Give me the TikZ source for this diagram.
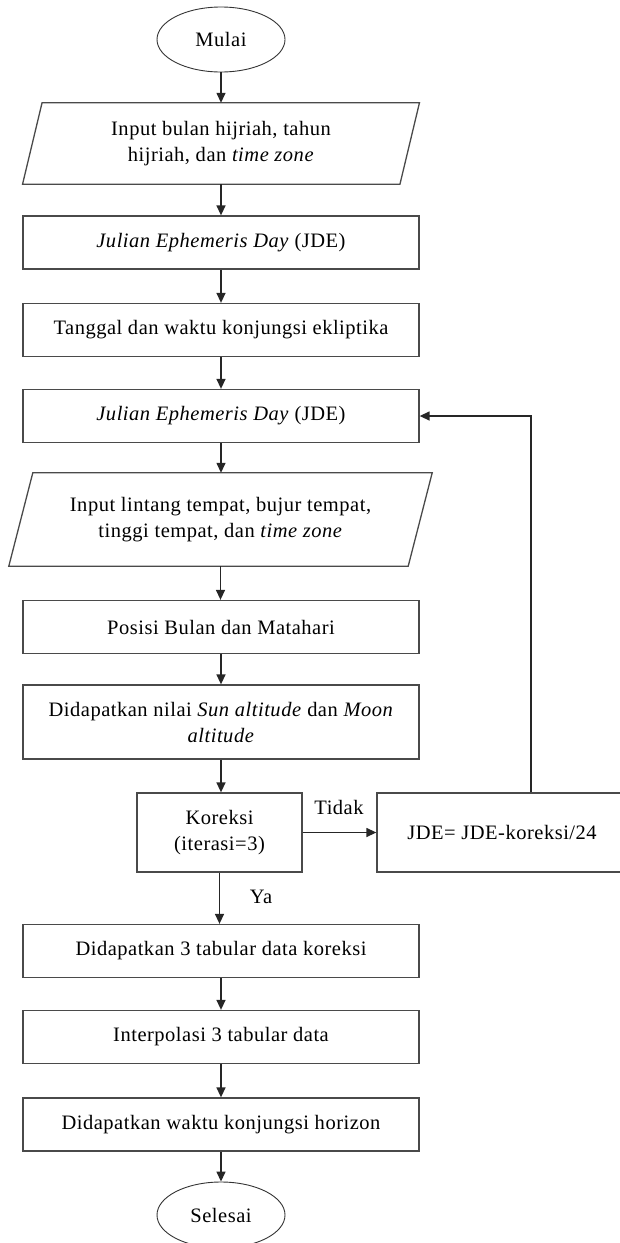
\documentclass[tikz,border=0pt]{standalone}
\usepackage{fontspec}
\setmainfont{Liberation Serif}[LetterSpace=2.5]
\usetikzlibrary{arrows.meta,positioning,calc,shapes.geometric}
\definecolor{cLine}{HTML}{4A4A4A}
\definecolor{cArr} {HTML}{262626}
\tikzset{
  blk/.style ={draw=cLine,line width=1.3pt,fill=white,align=center,inner sep=2pt,
               minimum width=396pt,minimum height=53pt},
  trm/.style ={ellipse,draw=black!80,line width=0.9pt,align=center,inner sep=0pt,
               minimum width=128pt,minimum height=65pt},
  io/.style  ={align=center,inner sep=0pt,minimum height=81pt},
  iobd/.style={draw=cLine,line width=1.3pt,line join=miter},
  sig/.style ={-{Triangle[length=10pt,width=9pt]},draw=cArr,line width=1.4pt},
  lbl/.style ={inner sep=1pt},
}

\begin{document}
\begin{tikzpicture}[x=1pt,y=1pt,font=\fontsize{20.5}{26}\selectfont]
\useasboundingbox (0,0) rectangle (620,-1243);

% ===== main column ======================================================
\node[trm] (mulai) at (221,-39.5) {Mulai};
\node[io,minimum width=396.5pt] (in1) at (221,-143.5)
  {Input bulan hijriah, tahun\\ hijriah, dan \textit{time zone}};
\node[blk] (jde1) at (221,-242.5) {\textit{Julian Ephemeris Day} (JDE)};
\node[blk] (tgl)  at (221,-330)   {Tanggal dan waktu konjungsi ekliptika};
\node[blk] (jde2) at (221,-416)   {\textit{Julian Ephemeris Day} (JDE)};
\node[io,minimum width=423pt,minimum height=93pt] (in2) at (220.5,-519.5)
  {Input lintang tempat, bujur tempat,\\ tinggi tempat, dan \textit{time zone}};
\node[blk] (pos)  at (221,-627)   {Posisi Bulan dan Matahari};
\node[blk,minimum height=74pt] (alt) at (221,-722)
  {Didapatkan nilai \textit{Sun altitude} dan \textit{Moon}\\ \textit{altitude}};
\node[blk,minimum width=165pt,minimum height=79pt] (kor) at (219.5,-832.5)
  {Koreksi\\ (iterasi=3)};
\node[blk,minimum width=250pt,minimum height=79pt] (upd) at (502,-832.5)
  {JDE= JDE-koreksi/24};
\node[blk] (tab)  at (221,-951)    {Didapatkan 3 tabular data koreksi};
\node[blk] (itp)  at (221,-1037)   {Interpolasi 3 tabular data};
\node[blk] (hor)  at (221,-1124.5) {Didapatkan waktu konjungsi horizon};
\node[trm,minimum height=66pt] (selesai) at (221,-1215) {Selesai};

% ===== input parallelograms =============================================
\foreach \n/\s in {in1/19.5,in2/24}{%
  \draw[iobd] ($(\n.north west)+(\s,0)$) -- (\n.north east)
    -- ($(\n.south east)-(\s,0)$) -- (\n.south west) -- cycle;
}

% ===== flow =============================================================
\foreach \a/\b in {mulai/in1,in1/jde1,jde1/tgl,tgl/jde2,jde2/in2,in2/pos,
                   pos/alt,alt/kor,kor/tab,tab/itp,itp/hor,hor/selesai}{%
  \draw[sig] (\a.south) -- (\a.south|-\b.north);
}
\node[lbl] (ya) at (261,-897) {Ya};

% ===== correction loop ==================================================
\draw[sig] (kor.east) -- (upd.west);
\node[lbl] (tdk) at (339,-807) {Tidak};
\draw[sig] ([xshift=29pt]upd.north) |- (jde2.east);
\end{tikzpicture}
\end{document}
